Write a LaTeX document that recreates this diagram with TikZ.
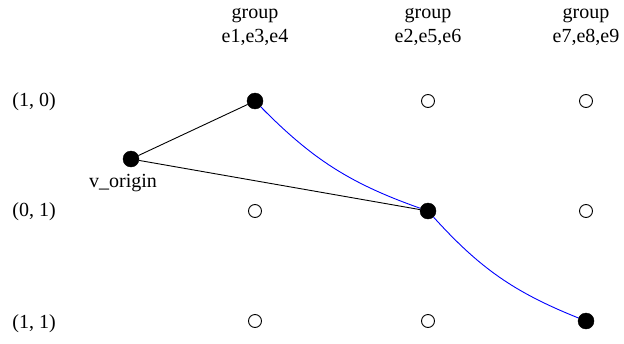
\documentclass[tikz,border=0pt]{standalone}
\usepackage{fontspec}
\setmainfont{Liberation Serif}
\begin{document}
\begin{tikzpicture}[x=1pt,y=-1pt,
  lbl/.style={font=\fontsize{20}{23.5}\selectfont, inner sep=0pt, align=center},
  full/.style={circle, fill=black, draw=black, inner sep=0pt, minimum size=16pt},
  empty/.style={circle, draw=black, line width=0.9pt, fill=white, inner sep=0pt, minimum size=13pt},
  edge/.style={line width=0.9pt, black},
  path/.style={line width=0.9pt, blue}]
\useasboundingbox (0,0) rectangle (624,343);
% group labels
\node[lbl] (g1) at (255,27) {group\\e1,e3,e4};
\node[lbl] (g2) at (428,27) {group\\e2,e5,e6};
\node[lbl] (g3) at (586,27) {group\\e7,e8,e9};
% row labels
\node[lbl] (r1) at (34,102) {(1, 0)};
\node[lbl] (r2) at (34,212) {(0, 1)};
\node[lbl] (r3) at (34,324) {(1, 1)};
% grid nodes
\node[full]  (a1) at (255,101) {};
\node[empty] (b1) at (428,101) {};
\node[empty] (c1) at (586,101) {};
\node[empty] (a2) at (255,211) {};
\node[full]  (b2) at (428,211) {};
\node[empty] (c2) at (586,211) {};
\node[empty] (a3) at (255,321) {};
\node[empty] (b3) at (428,321) {};
\node[full]  (c3) at (586,321) {};
% origin
\node[full] (o) at (131,159) {};
\node[lbl] (ol) at (123,183) {v\_origin};
% connectors
\draw[edge] (o) -- (a1);
\draw[edge] (o) -- (b2);
\draw[path] (a1) to[bend right=13] (b2);
\draw[path] (b2) to[bend right=13] (c3);
\end{tikzpicture}
\end{document}
